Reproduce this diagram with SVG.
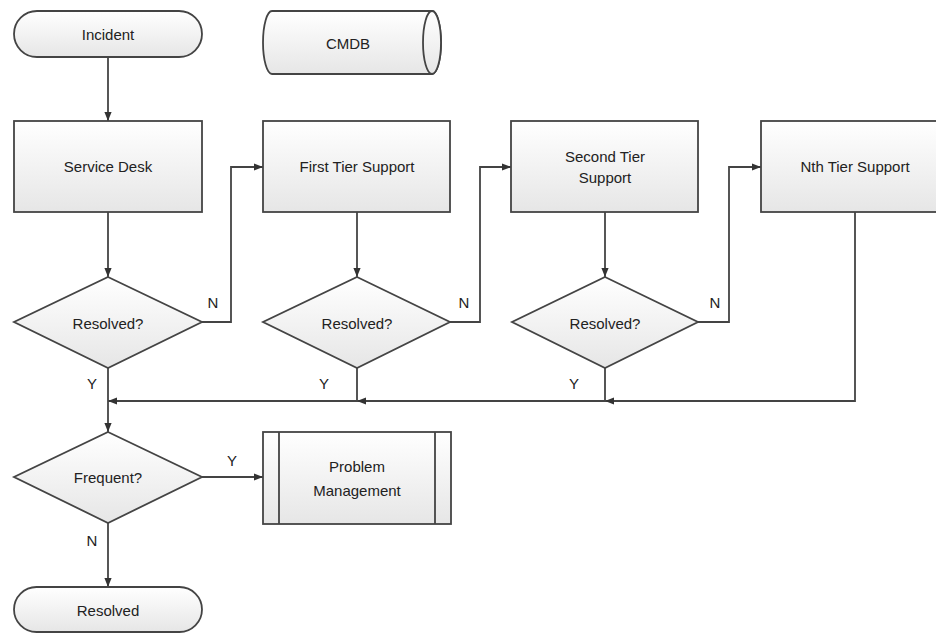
<svg xmlns="http://www.w3.org/2000/svg" width="936" height="635" viewBox="0 0 936 635">
<defs>
<linearGradient id="g" x1="0" y1="0" x2="0" y2="1">
<stop offset="0" stop-color="#ffffff"/>
<stop offset="1" stop-color="#e6e6e6"/>
</linearGradient>
<marker id="ah" viewBox="0 0 10 10" refX="10" refY="5" markerWidth="9" markerHeight="9" markerUnits="userSpaceOnUse" orient="auto">
<path d="M0,1 L10,5 L0,9 z" fill="#333"/>
</marker>
<style>
.s{fill:url(#g);stroke:#444;stroke-width:1.8}
.t{font-family:"Liberation Sans",Arial,sans-serif;font-size:15px;fill:#222;text-anchor:middle;dominant-baseline:central}
.c{fill:none;stroke:#444;stroke-width:1.8;marker-end:url(#ah)}
.n{fill:none;stroke:#444;stroke-width:1.8}
.l{font-family:"Liberation Sans",Arial,sans-serif;font-size:15px;fill:#222;text-anchor:middle}
</style>
</defs>
<rect width="936" height="635" fill="#fff"/>
<g id="connectors">
<path class="c" d="M108,57 V121"/>
<path class="c" d="M108,212 V277"/>
<path class="c" d="M202,322 H231 V167 H263"/>
<path class="c" d="M357,212 V277"/>
<path class="c" d="M450,322 H480 V167 H511"/>
<path class="c" d="M605,212 V277"/>
<path class="c" d="M698,322 H729 V167 H761"/>
<path class="c" d="M855,212 V401 H605"/>
<path class="c" d="M605,368 V401 H357"/>
<path class="c" d="M357,368 V401 H108"/>
<path class="c" d="M108,368 V432"/>
<path class="c" d="M202,477 H263"/>
<path class="c" d="M108,523 V587"/>
<text class="l" x="213" y="308">N</text>
<text class="l" x="464" y="308">N</text>
<text class="l" x="715" y="308">N</text>
<text class="l" x="92" y="389">Y</text>
<text class="l" x="324" y="389">Y</text>
<text class="l" x="574" y="389">Y</text>
<text class="l" x="232" y="466">Y</text>
<text class="l" x="92" y="546">N</text>
</g>
<g id="incident">
<rect class="s" x="14" y="11" width="188" height="46" rx="23"/>
<text class="t" x="108" y="34">Incident</text>
</g>
<g id="cmdb">
<path class="s" d="M272,11 H432 A9,31.5 0 0 1 432,74 H272 A9,31.5 0 0 1 272,11 z"/>
<ellipse class="s" cx="432" cy="42.5" rx="9" ry="31.5"/>
<text class="t" x="348" y="43">CMDB</text>
</g>
<g id="service-desk">
<rect class="s" x="14" y="121" width="188" height="91"/>
<text class="t" x="108" y="166">Service Desk</text>
</g>
<g id="first-tier">
<rect class="s" x="263" y="121" width="187" height="91"/>
<text class="t" x="357" y="166">First Tier Support</text>
</g>
<g id="second-tier">
<rect class="s" x="511" y="121" width="187" height="91"/>
<text class="t" x="605" y="156">Second Tier</text>
<text class="t" x="605" y="177">Support</text>
</g>
<g id="nth-tier">
<rect class="s" x="761" y="121" width="190" height="91"/>
<text class="t" x="855" y="166">Nth Tier Support</text>
</g>
<g id="resolved1">
<path class="s" d="M108,277 L202,322 L108,368 L14,322 z"/>
<text class="t" x="108" y="323">Resolved?</text>
</g>
<g id="resolved2">
<path class="s" d="M357,277 L450,322 L357,368 L263,322 z"/>
<text class="t" x="357" y="323">Resolved?</text>
</g>
<g id="resolved3">
<path class="s" d="M605,277 L698,322 L605,368 L512,322 z"/>
<text class="t" x="605" y="323">Resolved?</text>
</g>
<g id="frequent">
<path class="s" d="M108,432 L202,477 L108,523 L14,477 z"/>
<text class="t" x="108" y="477">Frequent?</text>
</g>
<g id="problem-management">
<rect class="s" x="263" y="432" width="188" height="92"/>
<path class="n" d="M279,432 V524 M435,432 V524"/>
<text class="t" x="357" y="466">Problem</text>
<text class="t" x="357" y="490">Management</text>
</g>
<g id="resolved-end">
<rect class="s" x="14" y="587" width="188" height="45" rx="22.5"/>
<text class="t" x="108" y="610">Resolved</text>
</g>
</svg>
